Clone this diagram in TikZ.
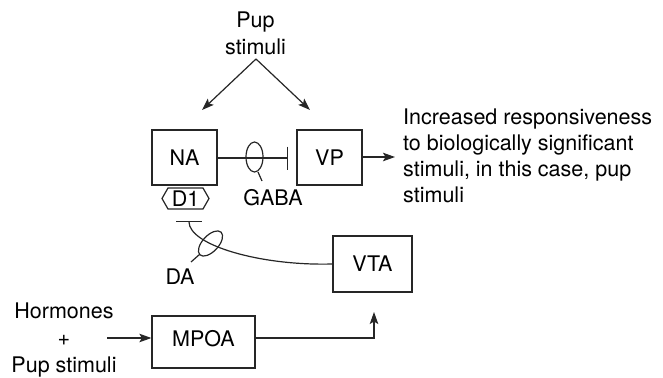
\documentclass[tikz,border=0pt]{standalone}
\usepackage{fontspec}
\setmainfont{TeX Gyre Heros}
\usetikzlibrary{arrows.meta}
\begin{document}
\begin{tikzpicture}[x=1pt,y=-1pt,
  every node/.style={font=\fontsize{21.5}{27}\selectfont, inner sep=0pt},
  line/.style={line width=1.2pt, draw=black!85},
  arr/.style={line, -{Stealth[length=12pt,width=8.5pt,inset=2.5pt]}},
  boxnode/.style={draw=black!85, line width=1.2pt, minimum width=#1},
  boxnode/.default=65pt,
  block/.style={line, -{Bar[width=#1, line width=1.2pt]}}
]
\useasboundingbox (0,0) rectangle (663,377);

% main boxes
\node[boxnode, minimum height=55pt] (NA) at (184.5,157.5) {NA};
\node[boxnode, minimum height=55pt] (VP) at (329.5,157.5) {VP};
\node[boxnode=79pt, minimum height=56pt] (VTA) at (372.5,264) {VTA};
\node[boxnode=103pt, minimum height=52pt, text depth=7pt] (MPOA) at (203.5,342) {MPOA};

% texts
\node[align=center] (pup) at (255.5,33) {Pup\\stimuli};
\node[align=left, anchor=west, font=\fontsize{21.5}{26}\selectfont] (resp) at (403,156)
  {Increased responsiveness\\to biologically significant\\stimuli, in this case, pup\\stimuli};
\node[align=center] (horm) at (64,340) {Hormones\\+\\Pup stimuli};
\node (gabalbl) at (273,198) {GABA};
\node (dalbl) at (180,277) {DA};
\node (D1) at (185.5,198.5) {D1};

% D1 hexagon
\draw[line] ([shift={(-23.5,0)}]D1.center) -- ([shift={(-17.5,-10.5)}]D1.center)
  -- ([shift={(17.5,-10.5)}]D1.center) -- ([shift={(23.5,0)}]D1.center)
  -- ([shift={(17.5,10.5)}]D1.center) -- ([shift={(-17.5,10.5)}]D1.center) -- cycle;

% coordinates
\coordinate (apex) at (256,59);
\coordinate (naIn) at (202,110);
\coordinate (vpIn) at (310,110);
\coordinate (gbar) at (288,158);
\coordinate (dabar) at (189,221);
\coordinate (respIn) at (395,157);
\coordinate (mpoaUp) at (374,312);
\coordinate (hormOut) at (107,338);

% pup stimuli arrows
\draw[arr] (apex) -- (naIn);
\draw[arr] (apex) -- (vpIn);

% GABA inhibition NA -> VP
\draw[block=23pt] (NA.east |- gbar) -- (gbar);
\draw[line] (254.5,157) ellipse [x radius=8.5, y radius=15];
\draw[line] (258,172) -- (262,181);

% VP -> response
\draw[arr] (VP.east |- respIn) -- (respIn);

% DA curve from VTA to D1
\draw[block=26pt] (VTA.west) .. controls (260,266) and (189,245) .. (dabar);
\draw[line, rotate around={47:(210.5,243.5)}] (210.5,243.5) ellipse [x radius=15.5, y radius=8];
\draw[line] (200,254) -- (191,262);

% hormones -> MPOA -> VTA
\draw[arr] (hormOut) -- (MPOA.west |- hormOut);
\draw[arr] (MPOA.east |- 0,338) -| (mpoaUp);
\end{tikzpicture}
\end{document}
